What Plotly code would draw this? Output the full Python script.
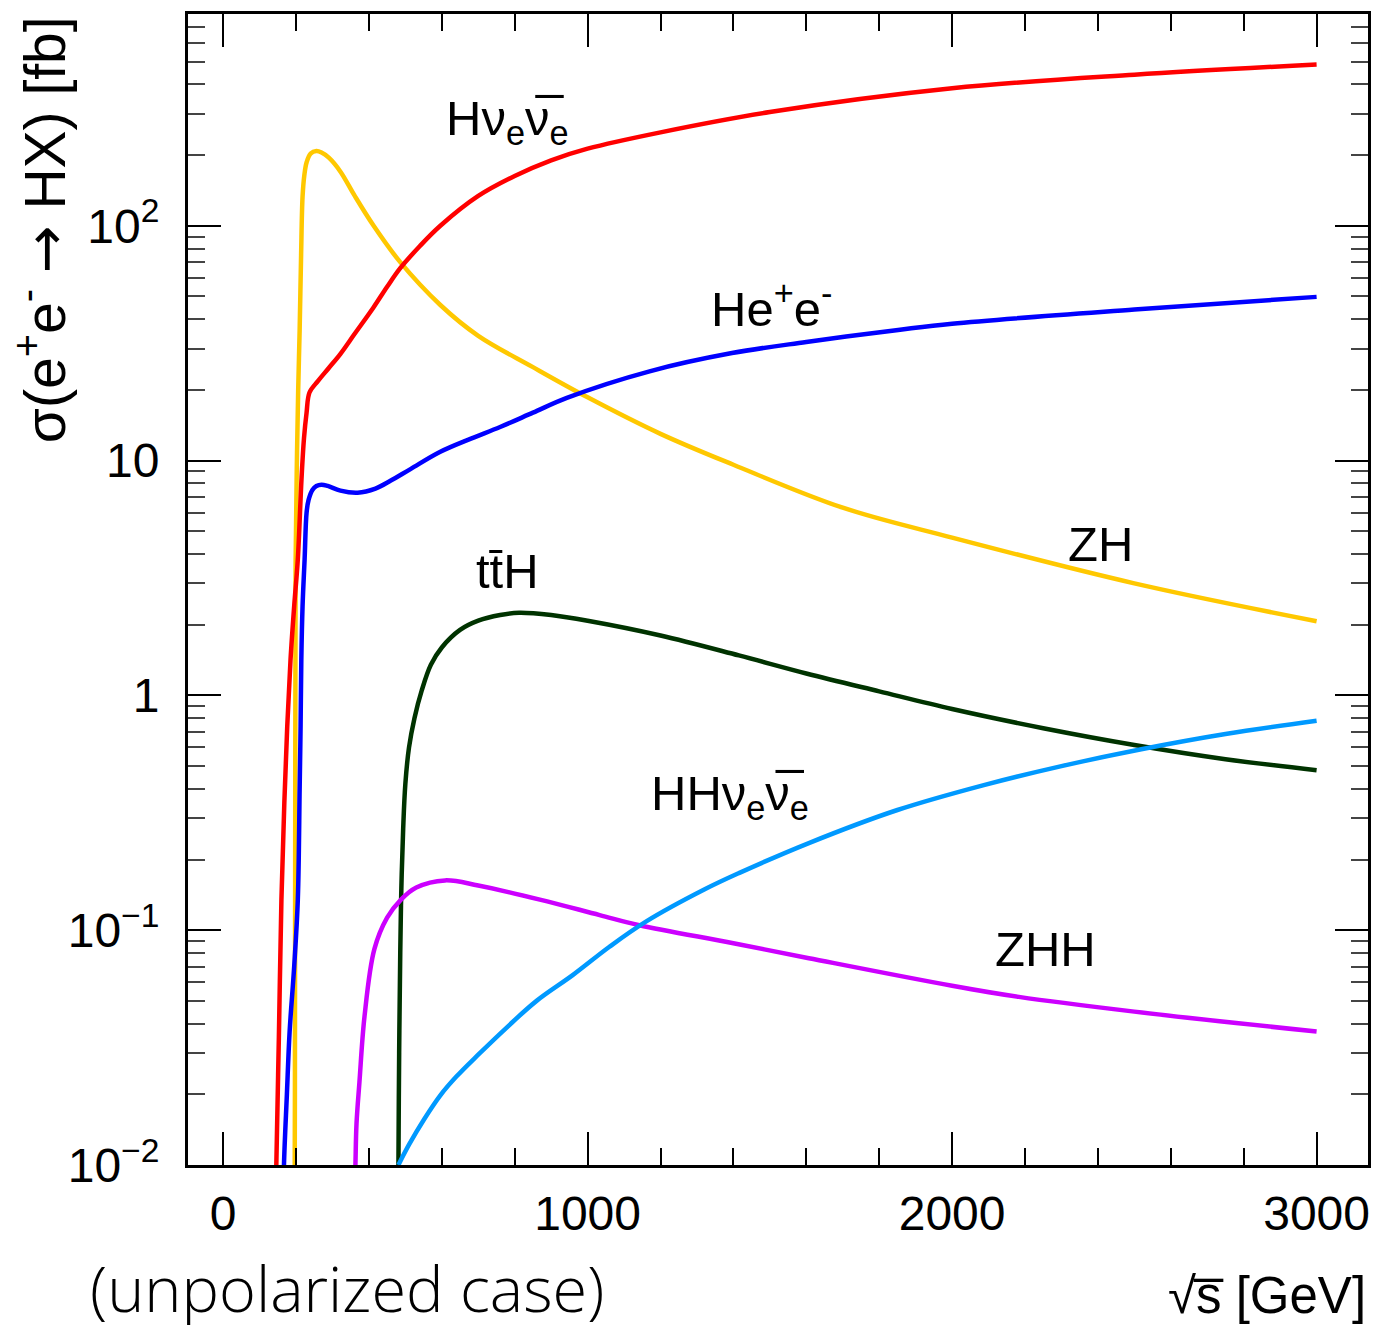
import plotly.graph_objects as go

# ---- data (sqrt(s) in GeV, sigma in fb) ----
hnn_x = [143, 146, 153, 160, 168, 176, 185, 195, 205, 215, 222, 229, 237, 260, 290, 322, 360, 413, 450, 486,
         540, 596, 700, 800, 900, 1000, 1200, 1500, 2000, 2500, 3000]
hnn_y = [0.005, 0.01, 0.035, 0.135, 0.35, 0.74, 1.42, 2.4, 3.8, 8.3, 12.5, 16, 19.5, 21.8, 24.8, 28.5, 34.5, 45, 55, 66,
         82, 100, 134, 163, 190, 213, 250, 305, 385, 440, 486]

hee_x = [164, 167, 175, 182.5, 195, 205, 210, 212.6, 214.6, 218, 223.6, 229, 234.5, 245, 256, 270, 287, 322, 369,
         418, 459, 514, 596, 680, 760, 850, 943, 1170, 1396, 1600, 1852, 2000, 2500, 3000]
hee_y = [0.005, 0.01, 0.02, 0.037, 0.07, 0.135, 0.4, 0.74, 1.42, 2.4, 3.79, 6.0, 6.8, 7.5, 7.8, 7.9, 7.8, 7.45, 7.3,
         7.6, 8.2, 9.2, 10.9, 12.4, 13.9, 16.0, 18.5, 24, 28.7, 32, 36, 38.3, 44, 49.8]

zh_x = [196, 197, 197.5, 198, 198.5, 199, 202, 206, 210, 214, 218, 223, 229, 240, 256, 270, 290, 322, 360, 413,
        486, 596, 700, 850, 1000, 1200, 1400, 1700, 2000, 2500, 3000]
zh_y = [0.005, 0.02, 0.1, 0.5, 1.5, 3.8, 9, 20, 36, 75, 133, 165, 186, 203, 208, 205, 195, 170, 135, 100,
        70, 46, 34, 25, 18.6, 13, 9.6, 6.3, 4.7, 3.0, 2.07]

tth_x = [480, 481, 483, 486, 489, 494, 500, 510, 525, 545, 570, 600, 650, 700, 760, 812, 900, 1000, 1200, 1415,
         1600, 1800, 2000, 2250, 2500, 2750, 3000]
tth_y = [0.005, 0.01, 0.03, 0.08, 0.15, 0.27, 0.42, 0.6, 0.8, 1.05, 1.35, 1.6, 1.9, 2.08, 2.2, 2.25, 2.2, 2.08,
         1.8, 1.48, 1.24, 1.04, 0.875, 0.725, 0.615, 0.535, 0.48]

hhnn_x = [481, 510, 552, 596, 640, 700, 778, 860, 960, 1060, 1161, 1320, 1415, 1607, 1850, 2087, 2300, 2519, 2750,
          3000]
hhnn_y = [0.01, 0.0122, 0.0157, 0.0198, 0.0238, 0.0295, 0.0385, 0.05, 0.0645, 0.085, 0.109, 0.149, 0.175, 0.235,
          0.325, 0.415, 0.5, 0.59, 0.685, 0.78]

zhh_x = [361, 363, 366, 374, 388, 415, 450, 488, 530, 609, 700, 869, 1033, 1142, 1400, 1607, 2000, 2183, 2500, 3000]
zhh_y = [0.008, 0.01, 0.015, 0.0225, 0.043, 0.083, 0.113, 0.135, 0.152, 0.163, 0.155, 0.135, 0.116, 0.105, 0.088,
         0.076, 0.058, 0.052, 0.045, 0.037]

series = [
    ("ZH", zh_x, zh_y, "#ffc800"),
    ("Hnn", hnn_x, hnn_y, "#ff0000"),
    ("Hee", hee_x, hee_y, "#0000ff"),
    ("ttH", tth_x, tth_y, "#003300"),
    ("ZHH", zhh_x, zhh_y, "#cc00ff"),
    ("HHnn", hhnn_x, hhnn_y, "#0099ff"),
]

x_ticks = [0, 1000, 2000, 3000]
y_ticks = [0.01, 0.1, 1, 10, 100]
y_ticktext = ["10<sup>\u22122</sup>", "10<sup>\u22121</sup>", "1", "10", "10<sup>2</sup>"]

fig = go.Figure()
for name, xs, ys, col in series:
    fig.add_trace(go.Scatter(x=xs, y=ys, mode="lines", name=name,
                             line=dict(color=col, width=4.5, shape="spline", smoothing=1.0),
                             showlegend=False))

FONT = "Liberation Sans, Arial, Helvetica, sans-serif"
minor_y = [m * 10.0 ** e for e in range(-2, 3) for m in range(2, 10)]

fig.update_xaxes(range=[-96.3, 3141], tickvals=x_ticks, ticks="inside", ticklen=33, tickwidth=2,
                 tickcolor="black", showline=True, linewidth=3, linecolor="black", mirror="allticks",
                 showgrid=False, zeroline=False, tickfont=dict(family=FONT, size=48, color="black"),
                 ticklabelstandoff=4,
                 minor=dict(ticks="inside", ticklen=17, tickwidth=2, tickcolor="black", dtick=200, tick0=0,
                            showgrid=False))
fig.update_yaxes(type="log", range=[-2, 2.902], tickvals=y_ticks, ticktext=y_ticktext, ticks="inside",
                 ticklen=33, tickwidth=2, tickcolor="black", showline=True, linewidth=3, linecolor="black",
                 mirror="allticks", showgrid=False, zeroline=False,
                 tickfont=dict(family=FONT, size=48, color="black"), ticklabelstandoff=16,
                 minor=dict(ticks="inside", ticklen=17, tickwidth=1.5, tickcolor="#444", tickmode="array",
                            tickvals=minor_y, showgrid=False))

labels = [
    ("H\u03bd<sub>e</sub>\u03bd\u0305<sub>e</sub>", 607, 2.443),
    ("He<sup>+</sup>e<sup>-</sup>", 1332, 1.664),
    ("ZH", 2312, 0.643),
    ("t\u0074\u0304H", 689, 0.528),
    ("HH\u03bd<sub>e</sub>\u03bd\u0305<sub>e</sub>", 1168, -0.43),
    ("ZHH", 2112, -1.081),
]
for txt, lx, ly in labels:
    fig.add_annotation(x=lx, y=ly, xref="x", yref="y", text=txt, showarrow=False, xanchor="left",
                       yanchor="middle", font=dict(family=FONT, size=49, color="black"))

fig.add_annotation(text="\u03c3(e<sup>+</sup>e<sup>-</sup> <span style='font-family:DejaVu Sans'>\u2192</span> HX) [fb]",
                   xref="paper", yref="paper",
                   x=-0.124, y=1.0, xanchor="center", yanchor="top", textangle=-90, showarrow=False,
                   font=dict(family=FONT, size=57, color="black"))
fig.add_annotation(text="\u221as\u0305 [GeV]", xref="paper", yref="paper", x=1.0, y=-0.113,
                   xanchor="right", yanchor="middle", showarrow=False,
                   font=dict(family=FONT, size=51, color="black"))
fig.add_annotation(text="(unpolarized case)", xref="paper", yref="paper", x=(88 - 188) / 1183,
                   y=(1165 - 1287) / 1151, xanchor="left", yanchor="middle", showarrow=False,
                   font=dict(family="Open Sans, Lato, sans-serif", size=63, color="black", weight=300))

fig.update_layout(width=1380, height=1325, margin=dict(l=188, r=9, t=14, b=160),
                  plot_bgcolor="white", paper_bgcolor="white")
fig.write_html("out.html")
